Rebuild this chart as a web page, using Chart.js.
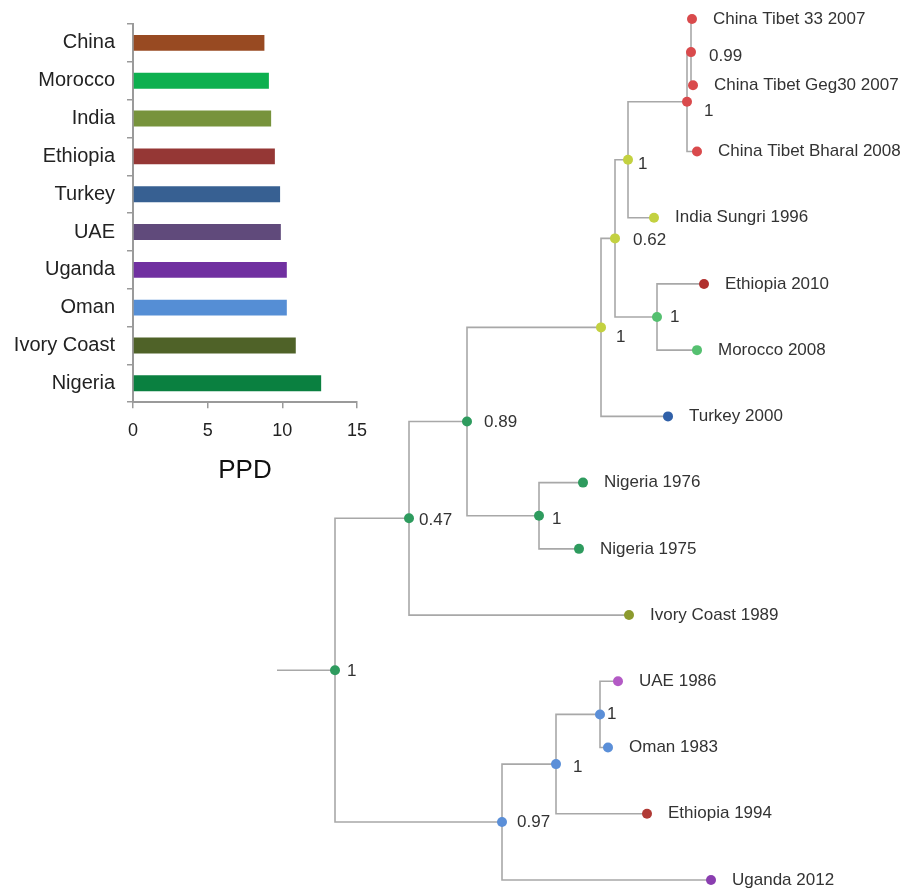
<!DOCTYPE html>
<html>
<head>
<meta charset="utf-8">
<script src="https://cdn.jsdelivr.net/npm/chart.js@4.4.1/dist/chart.umd.min.js"></script>
<style>
body { margin: 0; background: #fff; }
#wrap { position: relative; width: 912px; height: 889px; }
#treeChart, #ppdChart { position: absolute; left: 0; top: 0; }
</style>
</head>
<body>
<div id="wrap">
  <canvas id="treeChart" width="912" height="889"></canvas>
  <canvas id="ppdChart" width="380" height="490"></canvas>
</div>
<script>
// PPD bars
var ppdCountries = ['China', 'Morocco', 'India', 'Ethiopia', 'Turkey', 'UAE', 'Uganda', 'Oman', 'Ivory Coast', 'Nigeria'];
var ppdValues = [8.8, 9.1, 9.25, 9.5, 9.85, 9.9, 10.3, 10.3, 10.9, 12.6];
var ppdTicks = [0, 5, 10, 15];

// tree nodes: key, parent, distance from root, label (support or strain)
var nodeKeys = ['root', 'n1', 'n2', 'n3', 'n4', 'n5', 'n6', 'n7', 'L1', 'L2', 'L3', 'L4', 'n8', 'L5', 'L6', 'L7',
    'n9', 'L8', 'L9', 'L10', 'n10', 'n11', 'n12', 'L11', 'L12', 'L13', 'L14'];
var nodeParents = [null, 'root', 'n1', 'n2', 'n3', 'n4', 'n5', 'n6', 'n7', 'n7', 'n6', 'n5', 'n4', 'n8', 'n8', 'n3',
    'n2', 'n9', 'n9', 'n1', 'root', 'n10', 'n11', 'n12', 'n12', 'n11', 'n10'];
var nodeDepths = [0, 0.074, 0.132, 0.266, 0.280, 0.293, 0.352, 0.356, 0.357, 0.358, 0.362, 0.319, 0.322, 0.369, 0.362, 0.333,
    0.204, 0.248, 0.244, 0.294, 0.167, 0.221, 0.265, 0.283, 0.273, 0.312, 0.376];
var nodeLabels = ['1', '0.47', '0.89', '1', '0.62', '1', '1', '0.99',
    'China Tibet 33 2007', 'China Tibet Geg30 2007', 'China Tibet Bharal 2008', 'India Sungri 1996',
    '1', 'Ethiopia 2010', 'Morocco 2008', 'Turkey 2000',
    '1', 'Nigeria 1976', 'Nigeria 1975', 'Ivory Coast 1989',
    '0.97', '1', '1', 'UAE 1986', 'Oman 1983', 'Ethiopia 1994', 'Uganda 2012'];
var rootStem = 0.058;

// styles
Chart.defaults.font.family = "'Liberation Sans', Arial, sans-serif";
var barColors = ['#984a22', '#0db04f', '#77933c', '#953735', '#376092', '#604a7b', '#7030a0', '#558ed5', '#4f6228', '#0a8040'];
var nodeColor = {
    root: '#2e9b5e', n1: '#2e9b5e', n2: '#2e9b5e', n9: '#2e9b5e', L8: '#2e9b5e', L9: '#2e9b5e',
    n3: '#c3d140', n4: '#c3d140', n5: '#c3d140', L4: '#c3d140',
    n6: '#d94a4c', n7: '#d94a4c', L1: '#d94a4c', L2: '#d94a4c', L3: '#d94a4c',
    n8: '#55c070', L6: '#55c070', L5: '#b0302e', L7: '#3060a8', L10: '#8c9a2e',
    n10: '#5b8fd8', n11: '#5b8fd8', n12: '#5b8fd8', L12: '#5b8fd8',
    L11: '#b35ac5', L13: '#b03a35', L14: '#8a3eb0'
};
var labelNudge = {
    root: [12, 1], n1: [10, 2], n2: [17, 1], n3: [15, 10], n4: [18, 2], n5: [10, 5], n6: [17, 10],
    n7: [18, 4], n8: [13, 0], n9: [13, 4], n10: [15, 0], n11: [17, 3], n12: [7, 0]
};

// layout: leaves in order, inner nodes centred on their children
var children = {};
nodeKeys.forEach(function (k, i) {
    var p = nodeParents[i];
    if (p) (children[p] = children[p] || []).push(k);
});
var nodeY = {}, leafCount = 0;
function place(k) {
    var ch = children[k];
    if (!ch) { nodeY[k] = leafCount++; return nodeY[k]; }
    var ys = ch.map(place);
    nodeY[k] = (Math.min.apply(null, ys) + Math.max.apply(null, ys)) / 2;
    return nodeY[k];
}
place('root');
var depthOf = {};
nodeKeys.forEach(function (k, i) { depthOf[k] = nodeDepths[i]; });

var branchSets = [{
    data: [{ x: -rootStem, y: nodeY.root }, { x: 0, y: nodeY.root }]
}];
nodeKeys.forEach(function (k, i) {
    var p = nodeParents[i];
    if (!p) return;
    branchSets.push({
        data: [{ x: depthOf[p], y: nodeY[p] }, { x: depthOf[p], y: nodeY[k] }, { x: depthOf[k], y: nodeY[k] }]
    });
});
branchSets.forEach(function (ds) {
    ds.showLine = true;
    ds.borderColor = '#a8a8a8';
    ds.borderWidth = 1.6;
    ds.pointRadius = 0;
    ds.tension = 0;
    ds.clip = false;
});

var nodeSet = {
    data: nodeKeys.map(function (k) { return { x: depthOf[k], y: nodeY[k] }; }),
    pointRadius: 5,
    pointBorderWidth: 0,
    pointBackgroundColor: nodeKeys.map(function (k) { return nodeColor[k]; }),
    showLine: false,
    clip: false
};

var treeLabels = {
    id: 'treeLabels',
    afterDatasetsDraw: function (chart) {
        var ctx = chart.ctx;
        var meta = chart.getDatasetMeta(0);
        ctx.save();
        ctx.font = "17px 'Liberation Sans', Arial, sans-serif";
        ctx.fillStyle = '#333';
        ctx.textBaseline = 'middle';
        meta.data.forEach(function (pt, i) {
            var k = nodeKeys[i];
            var nudge = children[k] ? labelNudge[k] : [21, 0];
            ctx.fillText(nodeLabels[i], pt.x + nudge[0], pt.y + nudge[1]);
        });
        ctx.restore();
    }
};

new Chart(document.getElementById('treeChart'), {
    type: 'scatter',
    data: { datasets: [nodeSet].concat(branchSets) },
    options: {
        responsive: false,
        animation: false,
        layout: { autoPadding: false, padding: { left: 0, right: 0, top: 19, bottom: 9 } },
        scales: {
            x: { type: 'linear', display: false, min: -0.335, max: 0.577 },
            y: { type: 'linear', display: false, min: 0, max: 13, reverse: true }
        },
        plugins: { legend: { display: false }, tooltip: { enabled: false } }
    },
    plugins: [treeLabels]
});

new Chart(document.getElementById('ppdChart'), {
    type: 'bar',
    data: {
        labels: ppdCountries,
        datasets: [{
            data: ppdValues,
            backgroundColor: barColors,
            barPercentage: 0.42,
            categoryPercentage: 1
        }]
    },
    options: {
        indexAxis: 'y',
        responsive: false,
        animation: false,
        layout: { padding: { left: 0, right: 23, top: 22, bottom: 0 } },
        scales: {
            y: {
                grid: { offset: true, drawOnChartArea: false, tickLength: 6, color: '#9a9a9a', lineWidth: 1.5 },
                border: { color: '#9a9a9a', width: 2 },
                ticks: { color: '#222', font: { size: 20 }, padding: 12 },
                afterFit: function (s) { s.width = 133; }
            },
            x: {
                min: 0,
                max: 15,
                afterBuildTicks: function (s) { s.ticks = ppdTicks.map(function (v) { return { value: v }; }); },
                grid: { drawOnChartArea: false, tickLength: 6, color: '#9a9a9a', lineWidth: 1.5 },
                border: { color: '#9a9a9a', width: 2 },
                ticks: { color: '#222', font: { size: 18 }, padding: 12 },
                title: { display: true, text: 'PPD', color: '#111', font: { size: 26 }, padding: { top: 1, bottom: 4 } }
            }
        },
        plugins: { legend: { display: false }, tooltip: { enabled: false } }
    }
});
</script>
</body>
</html>
